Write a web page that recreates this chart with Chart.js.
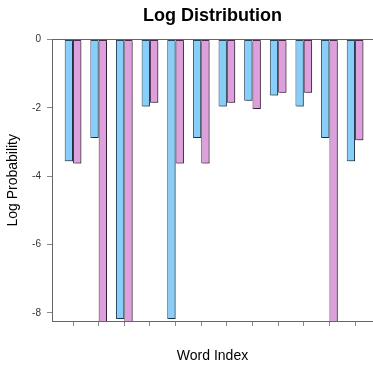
<!DOCTYPE html>
<html>
<head>
<meta charset="utf-8">
<script src="https://cdn.jsdelivr.net/npm/chart.js@4"></script>
<style>
  html, body { margin: 0; padding: 0; background: #fff; }
  canvas { display: block; }
</style>
</head>
<body>
<canvas id="chart" width="373" height="365"></canvas>
<script>
// word index 1..12
const wordIndex = [1, 2, 3, 4, 5, 6, 7, 8, 9, 10, 11, 12];
// log probabilities; -10 marks bars that run past the axis floor
const blueValues = [-3.56, -2.88, -8.18, -1.96, -8.18, -2.88, -1.96, -1.79, -1.64, -1.96, -2.88, -3.56];
const pinkValues = [-3.63, -10, -10, -1.85, -3.63, -3.63, -1.85, -2.03, -1.56, -1.56, -10, -2.95];
const yTicks = [0, -2, -4, -6, -8];

const toPoints = (vals) => vals.map((v, i) => ({ x: wordIndex[i], y: v }));

// soft grey drop shadow behind the bars
const barShadow = {
  id: 'barShadow',
  beforeDatasetsDraw(chart) {
    const ctx = chart.ctx;
    ctx.save();
    ctx.shadowColor = 'rgba(0,0,0,0.32)';
    ctx.shadowOffsetX = 1.5;
    ctx.shadowOffsetY = 1.5;
    ctx.shadowBlur = 0;
  },
  afterDatasetsDraw(chart) {
    chart.ctx.restore();
  }
};

new Chart(document.getElementById('chart'), {
  type: 'bar',
  data: {
    datasets: [{
      data: toPoints(blueValues),
      backgroundColor: '#87CEFA',
      borderColor: '#25465c',
      borderWidth: 1,
      borderSkipped: false,
      clip: { left: 0, right: 0, top: 2, bottom: 0 },
    }, {
      data: toPoints(pinkValues),
      backgroundColor: '#DDA0DD',
      borderColor: '#4c2a4c',
      borderWidth: 1,
      borderSkipped: false,
      clip: { left: 0, right: 0, top: 2, bottom: 0 },
    }]
  },
  options: {
    responsive: false,
    animation: false,
    devicePixelRatio: 1,
    layout: { padding: 0 },
    datasets: {
      bar: { categoryPercentage: 0.65, barPercentage: 1 }
    },
    plugins: {
      legend: { display: false },
      tooltip: { enabled: false },
      title: {
        display: true,
        fullSize: false,
        text: 'Log Distribution',
        color: '#000',
        font: { family: 'Liberation Sans, Arial, sans-serif', size: 18, weight: 'bold' },
        padding: { top: 5, bottom: 13 },
      }
    },
    scales: {
      x: {
        type: 'linear',
        offset: false,
        min: 0.18,
        max: 12.70,
        afterBuildTicks: (scale) => { scale.ticks = wordIndex.map(v => ({ value: v })); },
        afterFit: (scale) => { scale.height = 44; },
        ticks: { display: false },
        grid: { offset: false, drawOnChartArea: false, tickLength: 5, tickColor: '#8a8a8a' },
        border: { color: '#666', width: 1 },
        title: {
          display: true,
          text: 'Word Index',
          color: '#000',
          font: { family: 'Liberation Sans, Arial, sans-serif', size: 14 },
          padding: { top: 0, bottom: 0 },
        }
      },
      y: {
        min: -8.24,
        max: 0,
        afterBuildTicks: (scale) => { scale.ticks = yTicks.map(v => ({ value: v })); },
        afterFit: (scale) => { scale.width = 52; },
        ticks: {
          color: '#333',
          padding: 6,
          font: { family: 'Liberation Sans, Arial, sans-serif', size: 10 },
        },
        grid: {
          tickLength: 5,
          tickColor: '#8a8a8a',
          color: (ctx) => (ctx.tick && ctx.tick.value === 0 ? '#666' : 'rgba(0,0,0,0)'),
        },
        border: { color: '#666', width: 1 },
        title: {
          display: true,
          text: 'Log Probability',
          color: '#000',
          font: { family: 'Liberation Sans, Arial, sans-serif', size: 14 },
          padding: { top: 5, bottom: 0 },
        }
      }
    }
  },
  plugins: [barShadow]
});
</script>
</body>
</html>
